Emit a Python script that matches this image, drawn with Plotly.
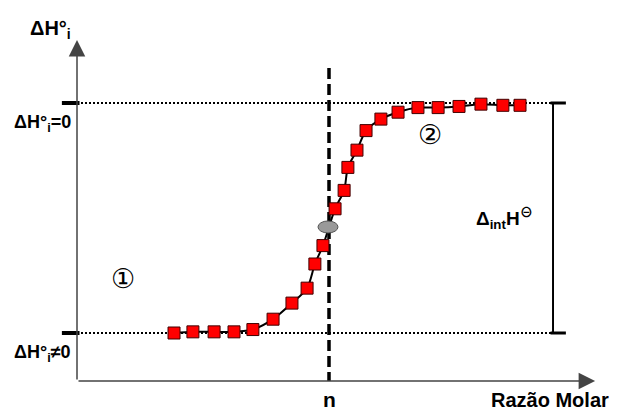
import plotly.graph_objects as go

# ---- data (molar ratio x, enthalpy y; top level = 0, bottom level = -10) ----
ratio = [0.385, 0.460, 0.544, 0.623, 0.698, 0.778, 0.853, 0.913, 0.944, 0.976,
         1.024, 1.060, 1.075, 1.111, 1.147, 1.206, 1.274, 1.353, 1.433, 1.516,
         1.603, 1.690, 1.758]
dH = [-10.0, -9.95, -9.95, -9.95, -9.85, -9.4, -8.7, -8.05, -7.0, -6.2,
      -4.6, -3.8, -2.8, -2.05, -1.2, -0.7, -0.4, -0.2, -0.2, -0.15,
      -0.05, -0.1, -0.1]
inflection = (0.996, -5.39)          # grey ellipse (equivalence point)
n_ratio = 1.0                         # stoichiometric ratio n
level_top = 0.0                       # ΔH°i = 0
level_bottom = -10.0                  # ΔH°i ≠ 0
x_end_levels = 1.889                  # right vertical Δint H bar
x_axis_end = 2.056
y_axis_top = 2.74
y_axis_bottom = -12.09

level_labels = ["ΔH°<sub>i</sub>=0", "ΔH°<sub>i</sub>≠0"]
x_label = "n"
x_title = "Razão Molar"
y_title = "ΔH°<sub>i</sub>"
region_labels = [("①", 0.183, -7.65), ("②", 1.401, -1.39)]
int_label = ("Δ<sub>int</sub>H<sup>⊖</sup>", 1.695, -5.0)

FONT = "Liberation Sans, Arial, Noto Sans CJK SC, sans-serif"

fig = go.Figure()

# dashed vertical at n
fig.add_trace(go.Scatter(x=[n_ratio, n_ratio], y=[1.52, y_axis_bottom], mode="lines",
                         line=dict(color="black", width=3.5, dash="11px,5px"),
                         hoverinfo="skip", showlegend=False))

# dotted reference levels
for lv in (level_top, level_bottom):
    fig.add_trace(go.Scatter(x=[0, x_end_levels], y=[lv, lv], mode="lines",
                             line=dict(color="black", width=2, dash="2px,2px"),
                             hoverinfo="skip", showlegend=False))
    # thick end ticks
    fig.add_trace(go.Scatter(x=[-0.06, 0.01], y=[lv, lv], mode="lines",
                             line=dict(color="black", width=4),
                             hoverinfo="skip", showlegend=False))
    fig.add_trace(go.Scatter(x=[x_end_levels - 0.01, 1.94], y=[lv, lv], mode="lines",
                             line=dict(color="black", width=3),
                             hoverinfo="skip", showlegend=False))

# Δint H vertical bar
fig.add_trace(go.Scatter(x=[x_end_levels, x_end_levels], y=[level_top, level_bottom],
                         mode="lines", line=dict(color="black", width=2),
                         hoverinfo="skip", showlegend=False))

# titration curve
fig.add_trace(go.Scatter(x=ratio, y=dH, mode="lines+markers",
                         line=dict(color="black", width=2, shape="spline", smoothing=0.8),
                         marker=dict(symbol="square", size=12, color="#ff0000",
                                     line=dict(color="#400000", width=1)),
                         hoverinfo="skip", showlegend=False))

shapes = [
    dict(type="circle", xref="x", yref="y", xsizemode="pixel", ysizemode="pixel",
         xanchor=inflection[0], yanchor=inflection[1], x0=-10, x1=10, y0=-6, y1=6,
         fillcolor="#999999", line=dict(color="#555555", width=1), layer="above"),
]

ann = []
# axes with arrows
ann.append(dict(x=0, y=y_axis_top, ax=0, ay=y_axis_bottom, xref="x", yref="y",
                axref="x", ayref="y", text="", showarrow=True, arrowhead=2,
                arrowsize=2.2, arrowwidth=1.5, arrowcolor="#444444"))
ann.append(dict(x=x_axis_end, y=y_axis_bottom, ax=0, ay=y_axis_bottom, xref="x", yref="y",
                axref="x", ayref="y", text="", showarrow=True, arrowhead=2,
                arrowsize=2.2, arrowwidth=1.5, arrowcolor="#444444"))
# texts
ann.append(dict(x=0, y=y_axis_top, xref="x", yref="y", text="<b>" + y_title + "</b>",
                showarrow=False, xanchor="right", yanchor="bottom", xshift=-4, yshift=-4,
                font=dict(family=FONT, size=20, color="black")))
for lbl, lv in zip(level_labels, (level_top, level_bottom)):
    ann.append(dict(x=0, y=lv, xref="x", yref="y", text="<b>" + lbl + "</b>",
                    showarrow=False, xanchor="right", yanchor="middle", xshift=-4, yshift=-20,
                    font=dict(family=FONT, size=18, color="black")))
ann.append(dict(x=n_ratio, y=y_axis_bottom, xref="x", yref="y", text="<b>" + x_label + "</b>",
                showarrow=False, yanchor="middle", yshift=-18,
                font=dict(family=FONT, size=21, color="black")))
ann.append(dict(x=x_axis_end, y=y_axis_bottom, xref="x", yref="y", text="<b>" + x_title + "</b>",
                showarrow=False, xanchor="right", yanchor="middle", xshift=16, yshift=-19,
                font=dict(family=FONT, size=20, color="black")))
for t, xx, yy in region_labels:
    ann.append(dict(x=xx, y=yy, xref="x", yref="y", text=t, showarrow=False,
                    font=dict(family="DejaVu Sans, Noto Sans CJK SC", size=27, color="black")))
ann.append(dict(x=int_label[1], y=int_label[2], xref="x", yref="y",
                text="<b>" + int_label[0] + "</b>", showarrow=False,
                font=dict(family=FONT, size=19, color="black")))

fig.update_layout(
    width=617, height=410, margin=dict(l=0, r=0, t=0, b=0),
    paper_bgcolor="white", plot_bgcolor="white",
    xaxis=dict(range=[-77 / 252, 540 / 252], visible=False, fixedrange=True),
    yaxis=dict(range=[-307 / 23, 103 / 23], visible=False, fixedrange=True),
    shapes=shapes, annotations=ann, showlegend=False,
)

fig.write_html("out.html")
